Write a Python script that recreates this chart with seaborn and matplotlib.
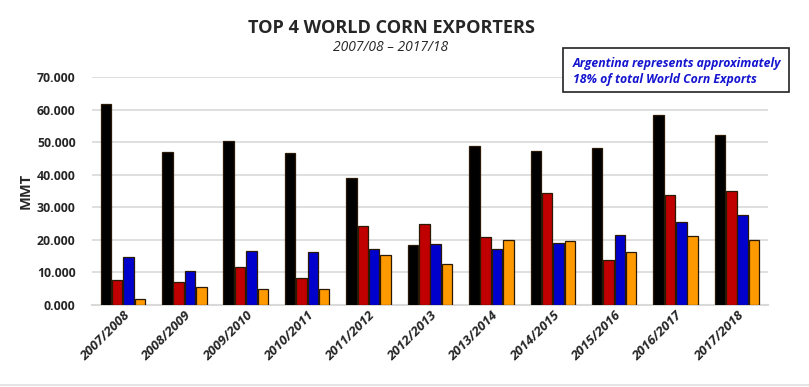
import matplotlib
matplotlib.use("Agg")
import matplotlib.pyplot as plt
import seaborn as sns
import pandas as pd
from matplotlib.patches import Rectangle
from matplotlib.lines import Line2D

seasons = ["2007/2008", "2008/2009", "2009/2010", "2010/2011", "2011/2012", "2012/2013",
           "2013/2014", "2014/2015", "2015/2016", "2016/2017", "2017/2018"]
series_names = ["Series 1", "Series 2", "Series 3", "Series 4"]
s1 = [61.8, 47.1, 50.5, 46.6, 39.1, 18.5, 48.9, 47.4, 48.2, 58.3, 52.1]
s2 = [7.7, 7.1, 11.6, 8.2, 24.2, 24.8, 20.9, 34.4, 13.9, 33.8, 35.0]
s3 = [14.7, 10.3, 16.5, 16.2, 17.1, 18.7, 17.1, 19.0, 21.5, 25.4, 27.6]
s4 = [1.9, 5.4, 5.0, 4.8, 15.3, 12.7, 19.9, 19.5, 16.4, 21.2, 19.9]
colors = ["#000000", "#C00000", "#0000CC", "#FF9900"]
yticks = [0, 10, 20, 30, 40, 50, 60, 70]

rows = []
for name, vals in zip(series_names, [s1, s2, s3, s4]):
    for season, v in zip(seasons, vals):
        rows.append({"season": season, "series": name, "value": v})
df = pd.DataFrame(rows)

sns.set_style("white")
plt.rcParams["font.family"] = ["Open Sans", "DejaVu Sans"]

fig = plt.figure(figsize=(8.09, 3.87), dpi=100)
ax = fig.add_axes([0.114, 0.212, 0.835, 0.589])

sns.barplot(data=df, x="season", y="value", hue="series", palette=colors,
            order=seasons, hue_order=series_names, width=0.74, gap=0.08,
            saturation=1, edgecolor="#2a1a05", linewidth=0.9, legend=False, ax=ax, zorder=3)

ax.set_ylim(0, 70)
ax.set_yticks(yticks)
ax.set_yticklabels([f"{t:.3f}" for t in yticks], fontsize=8.8, fontweight="bold")
ax.yaxis.grid(True, color="#d9d9d9", linewidth=1.2, zorder=0)
ax.set_axisbelow(True)
for sp in ["top", "right", "left"]:
    ax.spines[sp].set_visible(False)
ax.spines["bottom"].set_color("#d9d9d9")
ax.spines["bottom"].set_linewidth(1.5)
ax.tick_params(axis="y", length=0, pad=12)
ax.tick_params(axis="x", length=0, pad=3)
ax.set_xlabel("")
ax.set_ylabel("MMT", fontsize=10.5, fontweight="bold")
ax.yaxis.set_label_coords(-0.088, 0.5)
ax.set_xticks(range(len(seasons)))
ax.set_xticklabels(seasons, rotation=45, ha="right", rotation_mode="anchor",
                   fontsize=9.5, fontweight="bold", fontstyle="italic")

fig.text(0.484, 0.928, "TOP 4 WORLD CORN EXPORTERS", ha="center", va="center",
         fontsize=13.1, fontweight="bold")
fig.text(0.483, 0.876, "2007/08 \u2013 2017/18", ha="center", va="center",
         fontsize=10, fontstyle="italic")

fig.patches.append(Rectangle((563 / 809, 1 - 92 / 387), (789 - 563) / 809, (92 - 48) / 387,
                             transform=fig.transFigure, facecolor="white",
                             edgecolor="#222222", linewidth=1.2, zorder=5))
fig.text(573 / 809, 1 - 63 / 387, "Argentina represents approximately", ha="left", va="center",
         fontsize=8.8, fontweight="bold", fontstyle="italic", color="#1515D0", zorder=6)
fig.text(573 / 809, 1 - 80 / 387, "18% of total World Corn Exports", ha="left", va="center",
         fontsize=8.8, fontweight="bold", fontstyle="italic", color="#1515D0", zorder=6)

fig.add_artist(Line2D([0, 1], [0.004, 0.004], transform=fig.transFigure,
                      color="#e0e0e0", linewidth=1.2))

fig.savefig("out.png", dpi=100)
